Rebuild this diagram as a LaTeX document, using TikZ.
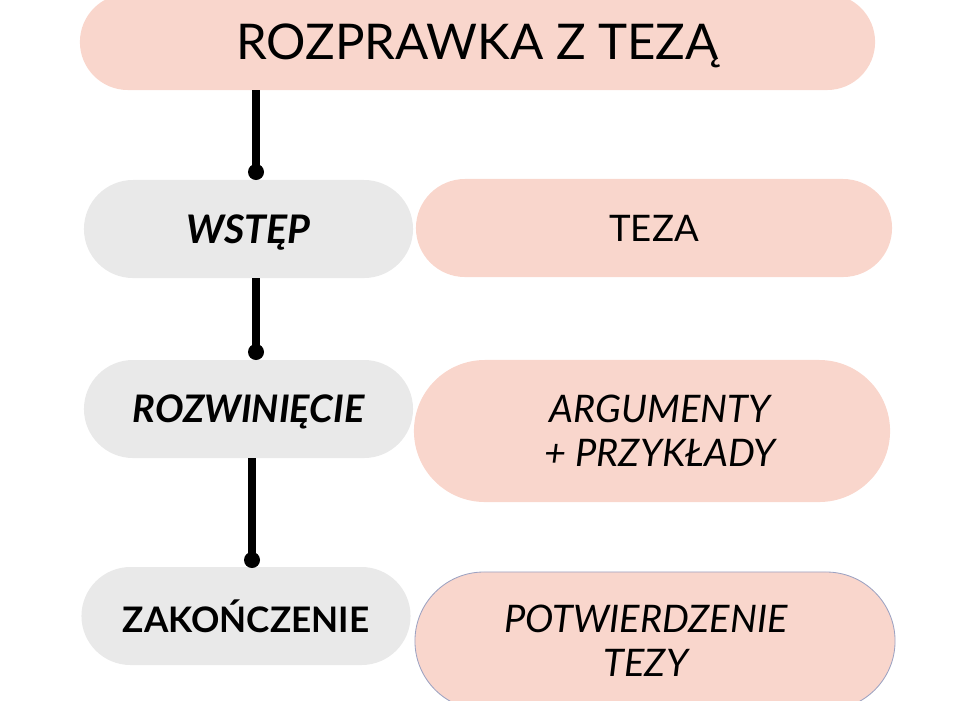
\documentclass[tikz,border=0pt]{standalone}
\usepackage{fontspec}
\setmainfont{Lato}
\usetikzlibrary{shapes.misc}
\definecolor{roz}{HTML}{F9D6CC}
\definecolor{szary}{HTML}{E9E9E9}
\definecolor{ramka}{HTML}{9CA2C2}
\tikzset{
	pill/.style={rounded rectangle, inner sep=0pt, text=black, text depth=0pt},
	czesc/.style={pill, fill=szary, minimum width=8.225cm, minimum height=2.45cm,
		font=\fontsize{27}{31}\selectfont\bfseries\itshape},
	opis/.style={pill, fill=roz, minimum width=11.9cm, minimum height=2.45cm},
	napis/.style={align=center, font=\fontsize{27}{31}\selectfont\itshape},
	laczenie/.style={line width=5pt},
	kropka/.style={fill=black}
}
\begin{document}
\begin{tikzpicture}[x=0.025cm, y=-0.025cm]
	\useasboundingbox (0,0) rectangle (972,700);
	\clip (0,0) rectangle (972,700);
	% tytul
	\node[pill, fill=roz, minimum width=19.875cm, minimum height=2.4cm,
		font=\fontsize{35}{40}\selectfont] (tytul) at (477.5,42) {ROZPRAWKA Z TEZĄ};
	% lewa kolumna
	\node[czesc, font=\fontsize{28}{31}\selectfont\bfseries\itshape] (wstep) at (248.5,229) {WSTĘP};
	\node[czesc] (rozw) at (248.5,409) {ROZWINIĘCIE};
	\node[czesc, font=\fontsize{25}{28}\selectfont\bfseries] (zak) at (246,616) {ZAKOŃCZENIE};
	% prawa kolumna
	\node[opis, font=\fontsize{26}{30}\selectfont] (teza) at (654,228) {TEZA};
	\node[opis, minimum height=3.55cm] (arg) at (652,431) {};
	\node[napis] (arg-t) at (660,431) {ARGUMENTY\\+ PRZYKŁADY};
	\node[opis, minimum width=12cm, minimum height=3.45cm, draw=ramka, line width=0.6pt] (pot) at (655,641) {};
	\node[napis] (pot-t) at (646,641) {POTWIERDZENIE\\TEZY};
	% polaczenia
	\coordinate (k1) at (256,172);
	\coordinate (k2) at (256,352);
	\coordinate (k3) at (252,560);
	\draw[laczenie] (k1 |- tytul.south) -- (k1);
	\draw[laczenie] (k2 |- wstep.south) -- (k2);
	\draw[laczenie] (k3 |- rozw.south) -- (k3);
	\foreach \k in {k1,k2,k3}
		\fill[kropka] (\k) circle (0.2cm);
\end{tikzpicture}
\end{document}
